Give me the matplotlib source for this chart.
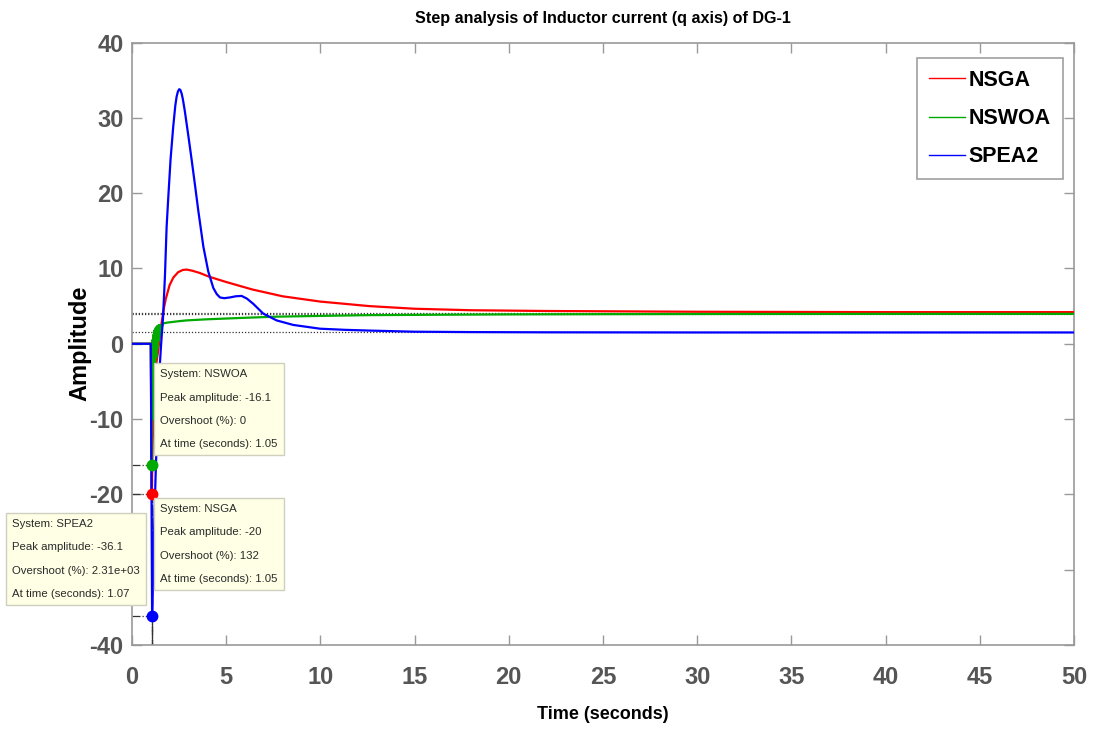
import matplotlib
matplotlib.use("Agg")
import matplotlib.pyplot as plt

plt.rcParams['font.family'] = ['Liberation Sans Narrow', 'Liberation Sans', 'DejaVu Sans']
plt.rcParams['axes.unicode_minus'] = False

# step responses
t_nsga = [0, 1.0, 1.05, 1.1, 1.2, 1.3, 1.4, 1.5, 1.6, 1.7, 1.8, 2.0, 2.2, 2.45, 2.7, 2.9,
          3.2, 3.6, 4.1, 5.0, 6.4, 8.0, 10, 12.6, 15, 18, 22, 26, 30, 40, 50]
y_nsga = [0, 0, -20, -13, -6, -2.5, -0.8, 1.5, 3.2, 4.8, 6.0, 7.8, 8.8, 9.5, 9.8, 9.85,
          9.7, 9.4, 8.9, 8.2, 7.2, 6.3, 5.6, 5.0, 4.65, 4.45, 4.35, 4.3, 4.25, 4.2, 4.2]

t_nswoa = [0, 1.0, 1.05, 1.08, 1.11, 1.14, 1.17, 1.2, 1.23, 1.26, 1.29, 1.32, 1.35, 1.38,
           1.41, 1.44, 1.47, 1.5, 1.55, 1.66, 1.85, 2.0, 2.5, 2.9, 4, 5, 6, 7.7, 10, 12.6,
           16, 20, 25, 30, 40, 50]
y_nswoa = [0, 0, -16.1, 0.5, -10, 1.2, -6, 1.8, -3.5, 2.1, -1.8, 2.3, -0.6, 2.4,
           0.4, 2.5, 1.1, 2.5, 1.9, 2.7, 2.8, 2.85, 3.0, 3.1, 3.25, 3.35, 3.45, 3.6, 3.7, 3.8,
           3.85, 3.9, 3.93, 3.95, 3.97, 3.97]

t_spea2 = [0, 1.0, 1.07, 1.15, 1.25, 1.35, 1.45, 1.55, 1.65, 1.75, 1.84, 1.93, 2.05, 2.19,
           2.3, 2.37, 2.44, 2.51, 2.57, 2.64, 2.7, 2.8, 3.0, 3.17, 3.35, 3.52, 3.79, 4.05,
           4.32, 4.5, 4.67, 4.9, 5.2, 5.5, 5.82, 6.1, 6.44, 6.97, 7.68, 8.56, 9.98, 11.3,
           12.6, 15, 18, 22, 30, 50]
y_spea2 = [0, 0, -36.1, -27, -18, -10, -4, 0, 3.5, 8.9, 15.5, 19.5, 24.5, 28.8,
           31.6, 32.8, 33.5, 33.8, 33.7, 33.2, 32.5, 31.0, 27.5, 24.4, 21.0, 17.7, 12.9, 9.6,
           7.4, 6.6, 6.15, 6.05, 6.15, 6.3, 6.35, 6.0, 5.3, 4.0, 3.1, 2.5, 2.0, 1.85,
           1.75, 1.6, 1.55, 1.52, 1.5, 1.5]

names = ['NSGA', 'NSWOA', 'SPEA2']
colors = ['#ff0000', '#00aa00', '#0000ff']
steady = [4.15, 4.0, 1.5]
peak_amp = [-20, -16.1, -36.1]
peak_time = [1.05, 1.05, 1.07]
overshoot = ['132', '0', '2.31e+03']

fig = plt.figure(figsize=(10.95, 7.29), dpi=100)
ax = fig.add_axes([0.1205, 0.1152, 0.8603, 0.8265])

series = [(t_nsga, y_nsga), (t_nswoa, y_nswoa), (t_spea2, y_spea2)]
for (t, y), name, c in zip(series, names, colors):
    ax.plot(t, y, color=c, lw=1.6, label=name, zorder=3)

# steady state and peak markers
for ss, pt, pa, c in zip(steady, peak_time, peak_amp, colors):
    ax.axhline(ss, color='#333333', lw=0.9, ls=(0, (1, 1.5)), zorder=2)
    ax.plot([0, pt], [pa, pa], color='#333333', lw=0.9, ls='-.', zorder=2)
    ax.plot([pt, pt], [pa, -40], color='#333333', lw=0.9, ls='-.', zorder=2)
    ax.plot(pt, pa, 'o', color=c, ms=7.5, zorder=5)

# data tips
tip_pos = {'NSWOA': (1.49, -3.4), 'NSGA': (1.49, -21.3), 'SPEA2': (-6.35, -23.3)}
for name, pt, pa, ov in zip(names, peak_time, peak_amp, overshoot):
    txt = ("System: %s\nPeak amplitude: %s\nOvershoot (%%): %s\nAt time (seconds): %s"
           % (name, ('%g' % pa), ov, ('%g' % pt)))
    x0, y0 = tip_pos[name]
    ax.text(x0, y0, txt, fontsize=8.2, color='#2a2a2a', ha='left', va='top',
            linespacing=2.65, clip_on=False, zorder=6,
            bbox=dict(boxstyle='square,pad=0.55', fc='#ffffe6', ec='#cfcfc0', lw=1))

ax.set_xlim(0, 50)
ax.set_ylim(-40, 40)
ax.set_xticks(range(0, 51, 5))
ax.set_yticks(range(-40, 41, 10))
ax.tick_params(direction='in', length=7, width=1, color='#999999', labelcolor='#555555',
               labelsize=17, top=True, right=True)
ax.tick_params(axis='x', pad=15)
ax.tick_params(axis='y', pad=6)
for lab in ax.get_xticklabels() + ax.get_yticklabels():
    lab.set_fontweight('bold')
for sp in ax.spines.values():
    sp.set_color('#999999')
    sp.set_linewidth(1.2)

ax.set_title('Step analysis of Inductor current (q axis) of DG-1', fontsize=11.6,
             fontweight='bold', pad=14)
ax.set_xlabel('Time (seconds)', fontsize=13, fontweight='bold', labelpad=12)
ax.set_ylabel('Amplitude', fontsize=17, fontweight='bold', family='Liberation Sans')
ax.yaxis.set_label_coords(-0.043, 0.5)

leg = ax.legend(loc='upper right', bbox_to_anchor=(0.988, 0.974), borderaxespad=0,
                fancybox=False, edgecolor='#888888', fontsize=15.5, handlelength=1.7,
                handletextpad=0.15, labelspacing=0.8, borderpad=0.55)
leg.get_frame().set_linewidth(1.2)
for txt in leg.get_texts():
    txt.set_fontweight('bold')
for line in leg.get_lines():
    line.set_linewidth(1.0)

fig.savefig('out.png', dpi=100, facecolor='white')
